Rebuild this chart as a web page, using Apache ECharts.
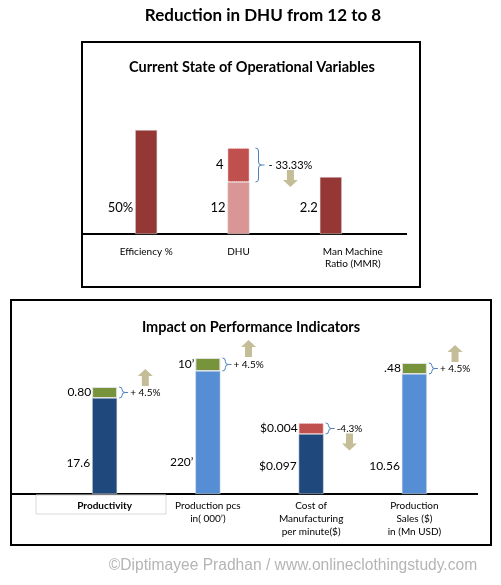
<!DOCTYPE html>
<html>
<head>
<meta charset="utf-8">
<script src="https://cdn.jsdelivr.net/npm/echarts@6/dist/echarts.min.js"></script>
<style>
  html, body { margin: 0; padding: 0; background: #fff; }
  #chart { width: 501px; height: 585px; }
</style>
</head>
<body>
<div id="chart"></div>
<script>
// bar heights are the drawn heights (the picture is not to scale), labels are the printed values
const topCategories = ['Efficiency %', 'DHU', 'Man Machine\nRatio (MMR)'];
const topBase = [104, 52, 57];
const topDelta = [null, 34, null];
const topBaseLabels = ['50%', '12', '2.2'];
const topDeltaLabels = ['', '4', ''];
const topChange = [null, '- 33.33%', null];
const topDirection = [null, 'down', null];

const bottomCategories = ['Productivity', 'Production pcs\nin( 000\u2019)', 'Cost of\nManufacturing\nper minute($)', 'Production\nSales ($)\nin (Mn USD)'];
const bottomBase = [96, 123, 60, 120];
const bottomDelta = [11, 13, 11, 11];
const bottomBaseLabels = ['17.6', '220\u2019', '$0.097', '10.56'];
const bottomDeltaLabels = ['0.80', '10\u2019', '$0.004', '.48'];
const bottomChange = ['+ 4.5%', '+ 4.5%', '-4.3%', '+ 4.5%'];
const bottomDirection = ['up', 'up', 'down', 'up'];

const FONT = 'Lato, "Open Sans", sans-serif';
const topBaseColors = ['#953735', '#d99694', '#953735'];
const bottomBaseColors = ['#1f497d', '#558ed5', '#1f497d', '#558ed5'];
const bottomDeltaColors = ['#77933c', '#77933c', '#c0504d', '#77933c'];
// where the value label sits along the bar (the source puts them low down)
const topLabelY = ['75%', '50%', '54%'];
const bottomLabelY = ['68%', '74%', '53%', '77%'];

const chart = echarts.init(document.getElementById('chart'));

function baseItems(values, colors, labelY, fontSize) {
    return values.map((v, i) => ({
        value: v,
        itemStyle: { color: colors[i], borderColor: '#e0e0e0', borderWidth: 0.5 },
        label: { position: [-2, labelY[i]], align: 'right', verticalAlign: 'middle', fontSize: fontSize }
    }));
}

const option = {
    animation: false,
    backgroundColor: '#fff',
    title: [
        { text: 'Reduction in DHU from 12 to 8', left: 258, top: 2, textAlign: 'center',
          textStyle: { fontFamily: FONT, fontSize: 17, fontWeight: 'bold', color: '#000' } },
        { text: 'Current State of Operational Variables', left: 247, top: 55, textAlign: 'center',
          textStyle: { fontFamily: FONT, fontSize: 14.5, fontWeight: 'bold', color: '#000' } },
        { text: 'Impact on Performance Indicators', left: 246, top: 315, textAlign: 'center',
          textStyle: { fontFamily: FONT, fontSize: 14.5, fontWeight: 'bold', color: '#000' } }
    ],
    grid: [
        { left: 100, width: 277, top: 114, height: 120 },
        { left: 53, width: 413, top: 354, height: 140 }
    ],
    xAxis: [
        {
            type: 'category', gridIndex: 0, data: topCategories,
            axisLine: { show: false }, axisTick: { show: false },
            axisLabel: {
                fontFamily: FONT, fontSize: 10, color: '#000', margin: 12, lineHeight: 12, interval: 0,
                // the MMR label sits to the right of its bar in the source
                formatter: (v, i) => i === 2 ? v.split('\n').map(s => '{s|' + s + '}').join('\n') : v,
                rich: { s: { fontFamily: FONT, fontSize: 10, color: '#000', lineHeight: 12, padding: [0, 0, 0, 44] } }
            }
        },
        {
            type: 'category', gridIndex: 1,
            data: bottomCategories.map((c, i) => i === 0 ? { value: c, textStyle: { fontWeight: 'bold' } } : c),
            axisLine: { show: false }, axisTick: { show: false },
            axisLabel: { fontFamily: FONT, fontSize: 10, color: '#000', margin: 5, lineHeight: 13, interval: 0 }
        }
    ],
    yAxis: [
        { type: 'value', gridIndex: 0, min: 0, max: 120, show: false },
        { type: 'value', gridIndex: 1, min: 0, max: 140, show: false }
    ],
    series: [
        {
            type: 'bar', xAxisIndex: 0, yAxisIndex: 0, stack: 'top', barWidth: 22,
            data: baseItems(topBase, topBaseColors, topLabelY, 13),
            label: { show: true, fontFamily: FONT, color: '#000', formatter: p => topBaseLabels[p.dataIndex] }
        },
        {
            type: 'bar', xAxisIndex: 0, yAxisIndex: 0, stack: 'top', barWidth: 22,
            data: topDelta,
            itemStyle: { color: '#c0504d', borderColor: '#f2c4c3', borderWidth: 1, borderType: 'dotted' },
            label: { show: true, position: 'left', distance: 4, fontFamily: FONT, fontSize: 13, color: '#000',
                     formatter: p => topDeltaLabels[p.dataIndex] }
        },
        {
            type: 'bar', xAxisIndex: 1, yAxisIndex: 1, stack: 'bottom', barWidth: 25,
            data: baseItems(bottomBase, bottomBaseColors, bottomLabelY, 12),
            label: { show: true, fontFamily: FONT, color: '#000', formatter: p => bottomBaseLabels[p.dataIndex] }
        },
        {
            type: 'bar', xAxisIndex: 1, yAxisIndex: 1, stack: 'bottom', barWidth: 25,
            data: bottomDelta.map((v, i) => ({
                value: v,
                itemStyle: { color: bottomDeltaColors[i], borderColor: i === 2 ? '#f2c4c3' : '#e0e0e0',
                             borderWidth: 1, borderType: i === 2 ? 'dotted' : 'solid' }
            })),
            label: { show: true, position: 'left', distance: 1, fontFamily: FONT, fontSize: 12, color: '#000',
                     formatter: p => bottomDeltaLabels[p.dataIndex] }
        }
    ]
};
chart.setOption(option);

const measure = document.createElement('canvas').getContext('2d');
function textWidth(txt, size) {
    measure.font = size + 'px ' + FONT;
    return measure.measureText(txt).width;
}

const braceStyle = { fill: 'none', stroke: '#4f81bd', lineWidth: 1 };

// curly brace "}" from y0 to y1, opening at x, tip at x + w
function brace(x, y0, y1, w) {
    const m = (y0 + y1) / 2, h = x + w / 2, r = Math.min(3, (y1 - y0) / 4);
    const q = (a, b, c) => ({ type: 'bezierCurve', shape: { x1: a[0], y1: a[1], cpx1: b[0], cpy1: b[1], x2: c[0], y2: c[1] }, style: braceStyle });
    const l = (a, b) => ({ type: 'line', shape: { x1: a[0], y1: a[1], x2: b[0], y2: b[1] }, style: braceStyle });
    return [
        q([x, y0], [h, y0], [h, y0 + r]),
        l([h, y0 + r], [h, m - r]),
        q([h, m - r], [h, m], [x + w, m]),
        q([x + w, m], [h, m], [h, m + r]),
        l([h, m + r], [h, y1 - r]),
        q([h, y1 - r], [h, y1], [x, y1]),
        l([x + w, m], [x + w + 3, m])
    ];
}

function arrow(cx, y, dir) {
    // y is the foot of the arrow (bottom for up, top for down)
    const s = dir === 'up' ? -1 : 1;
    return [[cx - 3.5, y], [cx + 3.5, y], [cx + 3.5, y + s * 10], [cx + 7.5, y + s * 10],
            [cx, y + s * 17], [cx - 7.5, y + s * 10], [cx - 3.5, y + s * 10]];
}

function annotations(gridIndex, base, delta, change, dir, barW, braceGap, textGap, size) {
    let out = [];
    change.forEach((txt, i) => {
        if (!txt) return;
        const lo = chart.convertToPixel({ gridIndex: gridIndex }, [i, base[i]]);
        const hi = chart.convertToPixel({ gridIndex: gridIndex }, [i, base[i] + delta[i]]);
        const right = hi[0] + barW / 2;
        const bx = right + braceGap;
        const mid = (lo[1] + hi[1]) / 2;
        const tx = bx + textGap;
        const cx = tx + textWidth(txt, size) / 2;
        out = out.concat(brace(bx, hi[1], lo[1], 6));
        out.push({ type: 'text', x: tx, y: mid,
                   style: { text: txt, font: size + 'px ' + FONT, fill: '#000', verticalAlign: 'middle' } });
        out.push({ type: 'polygon',
                   shape: { points: arrow(cx, dir[i] === 'up' ? hi[1] - 1 : mid + 5, dir[i]) },
                   style: { fill: '#c4bd97' } });
    });
    return out;
}

const zeroTop = chart.convertToPixel({ gridIndex: 0 }, [0, 0])[1];
const zeroBottom = chart.convertToPixel({ gridIndex: 1 }, [0, 0])[1];

chart.setOption({
    graphic: [
        { type: 'rect', shape: { x: 82, y: 42, width: 338, height: 245 },
          style: { fill: 'none', stroke: '#000', lineWidth: 2 } },
        { type: 'rect', shape: { x: 11, y: 300, width: 480, height: 245 },
          style: { fill: 'none', stroke: '#000', lineWidth: 2 } },
        { type: 'line', shape: { x1: 82, y1: zeroTop, x2: 407, y2: zeroTop },
          style: { stroke: '#000', lineWidth: 2 } },
        { type: 'line', shape: { x1: 11, y1: zeroBottom, x2: 478, y2: zeroBottom },
          style: { stroke: '#000', lineWidth: 2 } },
        { type: 'rect', shape: { x: 36, y: zeroBottom + 1, width: 130, height: 19 },
          style: { fill: 'none', stroke: '#d9d9d9', lineWidth: 1 } },
        { type: 'text', x: 293, y: 566,
          style: { text: '\u00a9Diptimayee Pradhan / www.onlineclothingstudy.com',
                   font: '15.6px "Liberation Sans", Arial, sans-serif', fill: '#b5b5b5',
                   align: 'center', verticalAlign: 'middle' } }
    ].concat(
        annotations(0, topBase, topDelta, topChange, topDirection, 22, 6, 13, 11),
        annotations(1, bottomBase, bottomDelta, bottomChange, bottomDirection, 25, 2, 11, 10)
    )
});
</script>
</body>
</html>
